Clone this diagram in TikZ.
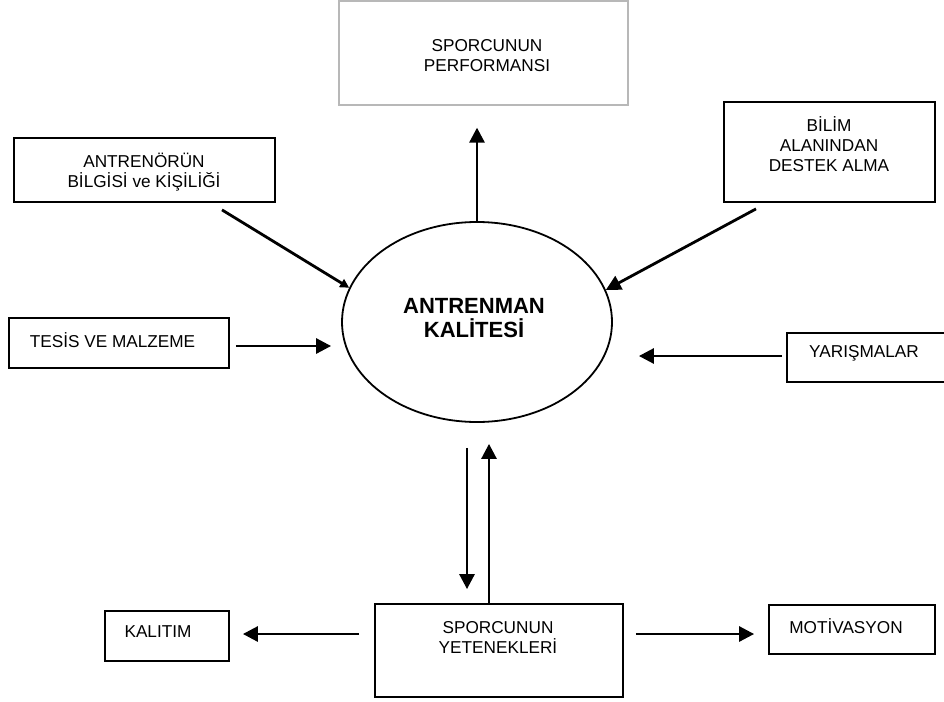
\documentclass[tikz,border=0pt]{standalone}
\usepackage{fontspec}
\setmainfont{Liberation Sans}
\usetikzlibrary{shapes.geometric,arrows.meta,calc}
\begin{document}
\begin{tikzpicture}[x=1pt,y=-1pt,
  box/.style={draw=black,line width=1.8pt,rectangle,inner sep=0pt},
  graybox/.style={draw=black!28,line width=1.3pt,rectangle,inner sep=0pt},
  txt/.style={inner sep=0pt,align=center,font=\fontsize{17.2}{20}\selectfont},
  bigtxt/.style={inner sep=0pt,align=center,font=\fontsize{22}{24.5}\selectfont\bfseries},
  arr/.style={line width=2.8pt,-{Triangle[width=15pt,length=15pt]}},
  arrsmall/.style={line width=2.8pt,-{Triangle[width=9pt,length=9pt]}}
]
\useasboundingbox (0,0) rectangle (944,701);
\fill[white] (0,0) rectangle (944,701);

% boxes
\node[graybox,minimum width=289pt,minimum height=104pt] (perf) at (483.5,53) {};
\node[txt] (perft) at (487,56) {SPORCUNUN\\PERFORMANSI};

\node[box,minimum width=261pt,minimum height=64pt] (antr) at (144.5,170) {};
\node[txt] (antrt) at (144,172.5) {ANTRENÖRÜN\\BİLGİSİ ve KİŞİLİĞİ};

\node[box,minimum width=211pt,minimum height=100pt] (bilim) at (829.5,152) {};
\node[txt] (bilimt) at (829,144) {BİLİM\\ALANINDAN\\DESTEK ALMA};

\node[box,minimum width=220pt,minimum height=50pt] (tesis) at (119,343) {};
\node[txt] (tesist) at (112.5,340) {TESİS VE MALZEME};

\node[box,minimum width=158pt,minimum height=49pt] (yar) at (866,357.5) {};
\node[txt] (yart) at (864,353) {YARIŞMALAR};

\node[draw=black,line width=1.8pt,ellipse,minimum width=270pt,minimum height=200pt,inner sep=0pt] (ell) at (477,322) {};
\node[bigtxt] (ellt) at (474,318) {ANTRENMAN\\KALİTESİ};

\node[box,minimum width=248pt,minimum height=93pt] (yet) at (499,650.5) {};
\node[txt] (yett) at (498,637) {SPORCUNUN\\YETENEKLERİ};

\node[box,minimum width=124pt,minimum height=50pt] (kal) at (167,636) {};
\node[txt] (kalt) at (158,632) {KALITIM};

\node[box,minimum width=166pt,minimum height=49pt] (mot) at (852,629.5) {};
\node[txt] (mott) at (846,626) {MOTİVASYON};

% connectors
\draw[arr,shorten >=22pt] (ell.north) -- (perf.south -| ell.north);
\draw[arrsmall] ($(antr.south)+(77.5,7)$) -- (ell.165);
\draw[arr] ($(bilim.south)+(-73.5,6)$) -- (ell.14);
\draw[arr,shorten <=6pt,shorten >=10pt] (tesis.east |- 0,346) -- (ell.west |- 0,346);
\draw[arr,shorten <=4pt,shorten >=26pt] (yar.west |- 0,356) -- (ell.east |- 0,356);
\draw[arr] ($(ell.south)+(-10,25)$) -- ($(yet.north)+(-32,-14)$);
\draw[arr] ($(yet.north)+(-10,0)$) -- ($(ell.south)+(12,21)$);
\draw[arr,shorten <=15pt,shorten >=13pt] (yet.west |- 0,634) -- (kal.east |- 0,634);
\draw[arr,shorten <=12pt,shorten >=14pt] (yet.east |- 0,634) -- (mot.west |- 0,634);
\end{tikzpicture}
\end{document}
